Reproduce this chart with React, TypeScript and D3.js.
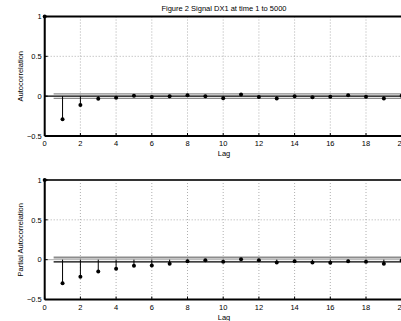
import { useEffect, useRef } from "react";
import * as d3 from "d3";

const lags = d3.range(0, 21);
const acfValues = [1, -0.29, -0.11, -0.033, -0.02, 0.005, -0.01, 0.0, 0.012, 0.0, -0.025, 0.02, -0.01, -0.03, 0.0, -0.015, -0.008, 0.012, -0.008, -0.03, 0.005];
const pacfValues = [1, -0.295, -0.215, -0.15, -0.114, -0.076, -0.072, -0.05, -0.02, -0.008, -0.025, 0.004, -0.008, -0.034, -0.02, -0.034, -0.038, -0.02, -0.025, -0.05, -0.01];
const xTicks = [0, 2, 4, 6, 8, 10, 12, 14, 16, 18, 20];
const yTicks = [-0.5, 0, 0.5, 1];
const bound = 2 / Math.sqrt(5000);

const W = 401;
const H = 321;
const FONT = "'Liberation Sans', Arial, Helvetica, sans-serif";

export default function App() {
  const svgRef = useRef<SVGSVGElement>(null);

  useEffect(() => {
    const svg = d3.select(svgRef.current);
    svg.selectAll("*").remove();

    const x = d3.scaleLinear().domain([0, 20]).range([44.7, 401.7]);

    // title
    svg.append("text")
      .attr("x", 224)
      .attr("y", 11)
      .attr("text-anchor", "middle")
      .attr("font-family", FONT)
      .attr("font-size", 7.5)
      .text("Figure 2 Signal DX1 at time 1 to 5000");

    const panels = [
      { values: acfValues, top: 16.5, bottom: 136, label: "Autocorrelation", pacf: false },
      { values: pacfValues, top: 180, bottom: 299.5, label: "Partial Autocorrelation", pacf: true },
    ];

    panels.forEach(p => {
      const y = d3.scaleLinear().domain([-0.5, 1]).range([p.bottom, p.top]);
      const g = svg.append("g");

      // grid
      xTicks.slice(1, -1).forEach(t => {
        g.append("line")
          .attr("x1", x(t)).attr("x2", x(t))
          .attr("y1", p.top).attr("y2", p.bottom)
          .attr("stroke", "#9a9a9a")
          .attr("stroke-width", 0.8)
          .attr("stroke-dasharray", "1,2");
      });
      g.append("line")
        .attr("x1", x(0)).attr("x2", x(20))
        .attr("y1", y(0.5)).attr("y2", y(0.5))
        .attr("stroke", "#9a9a9a")
        .attr("stroke-width", 0.8)
        .attr("stroke-dasharray", "1,2");

      // confidence bounds and zero line
      g.append("line")
        .attr("x1", x(0.5)).attr("x2", x(20))
        .attr("y1", y(bound)).attr("y2", y(bound))
        .attr("stroke", "#8c8c8c")
        .attr("stroke-width", p.pacf ? 2 : 1.3);
      g.append("line")
        .attr("x1", x(0)).attr("x2", x(20))
        .attr("y1", y(0)).attr("y2", y(0))
        .attr("stroke", p.pacf ? "#9a9a9a" : "#000")
        .attr("stroke-width", p.pacf ? 0.8 : 1.2);
      g.append("line")
        .attr("x1", x(0.5)).attr("x2", x(20))
        .attr("y1", y(-bound)).attr("y2", y(-bound))
        .attr("stroke", p.pacf ? "#000" : "#8c8c8c")
        .attr("stroke-width", 1.3);

      // stems
      g.selectAll(".stem")
        .data(p.values)
        .enter()
        .append("line")
        .attr("x1", (_, i) => x(lags[i]))
        .attr("x2", (_, i) => x(lags[i]))
        .attr("y1", y(0))
        .attr("y2", d => y(d))
        .attr("stroke", "#000")
        .attr("stroke-width", 1);

      // axes box
      g.append("line")
        .attr("x1", x(0)).attr("x2", x(20))
        .attr("y1", p.top).attr("y2", p.top)
        .attr("stroke", p.pacf ? "#333" : "#000")
        .attr("stroke-width", 2);
      g.append("line")
        .attr("x1", x(0)).attr("x2", x(20))
        .attr("y1", p.bottom).attr("y2", p.bottom)
        .attr("stroke", "#000")
        .attr("stroke-width", 2);
      g.append("line")
        .attr("x1", x(0)).attr("x2", x(0))
        .attr("y1", p.top).attr("y2", p.bottom)
        .attr("stroke", "#000")
        .attr("stroke-width", 2);

      // ticks
      xTicks.forEach(t => {
        g.append("line")
          .attr("x1", x(t)).attr("x2", x(t))
          .attr("y1", p.bottom).attr("y2", p.bottom - 3)
          .attr("stroke", "#000");
        g.append("text")
          .attr("x", x(t))
          .attr("y", p.bottom + 10)
          .attr("text-anchor", "middle")
          .attr("font-family", FONT)
          .attr("font-size", 7.5)
          .text(String(t));
      });
      yTicks.forEach(t => {
        g.append("line")
          .attr("x1", x(0)).attr("x2", x(0) + 3)
          .attr("y1", y(t)).attr("y2", y(t))
          .attr("stroke", "#000");
        g.append("text")
          .attr("x", x(0) - 3)
          .attr("y", y(t) + 2.7)
          .attr("text-anchor", "end")
          .attr("font-family", FONT)
          .attr("font-size", 7.5)
          .text(t === -0.5 ? "\u22120.5" : String(t));
      });

      // markers
      g.selectAll(".dot")
        .data(p.values)
        .enter()
        .append("circle")
        .attr("cx", (_, i) => x(lags[i]))
        .attr("cy", d => y(d))
        .attr("r", 2)
        .attr("fill", "#000");

      // labels
      g.append("text")
        .attr("x", 224)
        .attr("y", p.bottom + 20)
        .attr("text-anchor", "middle")
        .attr("font-family", FONT)
        .attr("font-size", 7.5)
        .text("Lag");
      g.append("text")
        .attr("transform", `translate(23,${(p.top + p.bottom) / 2}) rotate(-90)`)
        .attr("text-anchor", "middle")
        .attr("font-family", FONT)
        .attr("font-size", 7.5)
        .text(p.label);
    });
  }, []);

  return (
    <svg
      ref={svgRef}
      width={W}
      height={H}
      style={{ position: "absolute", left: 0, top: 0, background: "#fff" }}
    />
  );
}
